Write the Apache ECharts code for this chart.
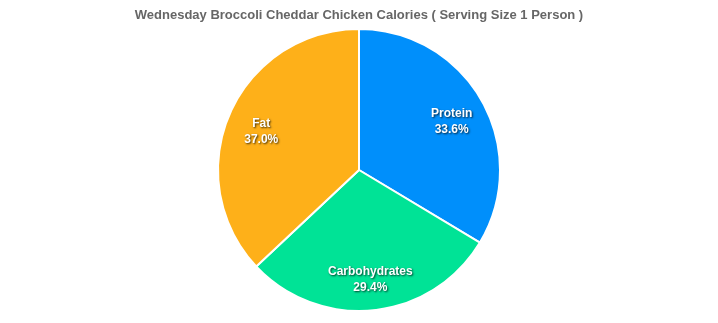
<!DOCTYPE html>
<html>
<head>
<meta charset="utf-8">
<script src="https://cdn.jsdelivr.net/npm/echarts@6/dist/echarts.min.js"></script>
<style>
  html, body { margin: 0; padding: 0; background: #fff; }
  #main { width: 718px; height: 323px; }
</style>
</head>
<body>
<div id="main"></div>
<script>
const categories = ['Protein', 'Carbohydrates', 'Fat']
const values = [33.6, 29.4, 37.0]
const colors = ['#008FFB', '#00E396', '#FEB019']

const pieData = categories.map((name, i) => ({
  name: name,
  value: values[i],
  itemStyle: { color: colors[i] }
}))

let myChart = echarts.init(document.getElementById('main'))
let option = {
  backgroundColor: '#fff',
  animation: false,
  title: {
    text: 'Wednesday Broccoli Cheddar Chicken Calories ( Serving Size 1 Person )',
    left: 'center',
    top: 4,
    textStyle: {
      fontFamily: 'Liberation Sans, Arial, sans-serif',
      fontSize: 13,
      fontWeight: 'bold',
      color: '#666'
    }
  },
  series: [
    {
      type: 'pie',
      center: [359, 170],
      radius: [0, 141],
      startAngle: 90,
      clockwise: true,
      data: pieData,
      label: { show: false },
      labelLine: { show: false },
      itemStyle: { borderColor: '#fff', borderWidth: 2 },
      emphasis: { disabled: true }
    },
    {
      // transparent ring only used to place the labels further out
      type: 'pie',
      center: [359, 170],
      radius: [66, 141],
      startAngle: 90,
      clockwise: true,
      silent: true,
      data: pieData.map(d => ({ name: d.name, value: d.value, itemStyle: { color: 'transparent' } })),
      label: {
        show: true,
        position: 'inside',
        offset: [0, 4],
        formatter: p => p.name + '\n' + p.value.toFixed(1) + '%',
        fontFamily: 'Liberation Sans, Arial, sans-serif',
        fontSize: 12,
        fontWeight: 'bold',
        lineHeight: 16,
        color: '#fff',
        textShadowColor: 'rgba(0,0,0,0.75)',
        textShadowBlur: 2,
        textShadowOffsetX: 1,
        textShadowOffsetY: 1
      },
      labelLine: { show: false },
      emphasis: { disabled: true }
    }
  ]
}
myChart.setOption(option)
</script>
</body>
</html>
